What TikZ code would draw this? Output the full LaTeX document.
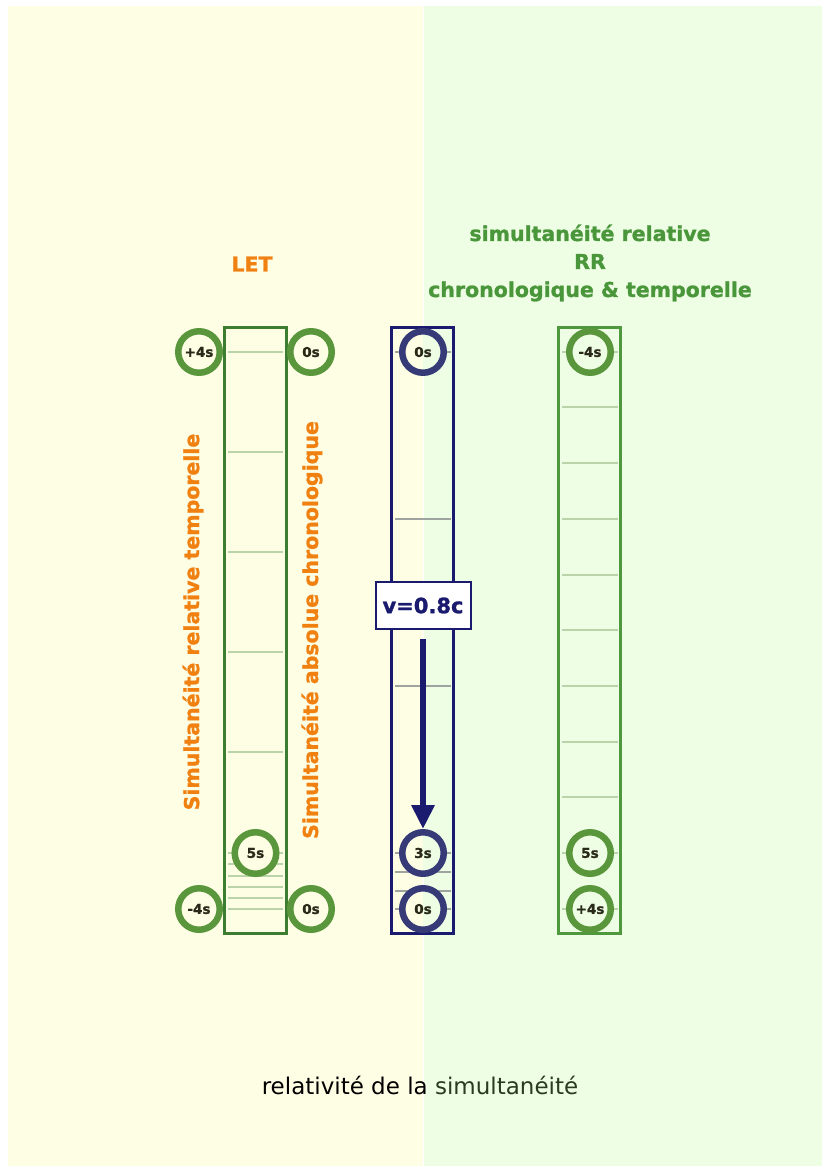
\documentclass[tikz,border=0pt]{standalone}
\usepackage{fontspec}
\setmainfont{DejaVu Sans}[BoldFeatures={FakeBold=1.2}]
\usetikzlibrary{arrows.meta}
\definecolor{fondJ}{RGB}{254,254,228}
\definecolor{fondV}{RGB}{238,254,228}
\definecolor{vertF}{RGB}{61,125,50}
\definecolor{vertC}{RGB}{80,152,62}
\definecolor{vertB}{RGB}{90,150,60}
\definecolor{vertT}{RGB}{74,150,58}
\definecolor{vertS}{RGB}{42,58,34}
\definecolor{bleuF}{RGB}{26,26,110}
\definecolor{bleuC}{RGB}{54,59,119}
\definecolor{orangeT}{RGB}{240,128,16}
\definecolor{traitV}{RGB}{184,212,168}
\definecolor{traitG}{RGB}{160,164,160}
\definecolor{txtdark}{RGB}{42,42,26}
\tikzset{
  colonne/.style={draw=#1, line width=3pt, minimum width=62pt, minimum height=606pt, inner sep=0pt},
  bulle/.style={circle, draw=#1, line width=6.5pt, minimum size=41.5pt, inner sep=0pt,
    font=\bfseries\fontsize{13.5}{16}\selectfont, text=txtdark},
  trait/.style={line width=1.2pt, draw=#1},
}
\begin{document}
\begin{tikzpicture}[x=1pt, y=-1pt]
    \useasboundingbox (0,0) rectangle (822,1168);
    % fonds
    \fill[fondJ] (8,6) rectangle (422.5,1166);
    \fill[fondV] (424,6) rectangle (822,1166);
    % colonnes
    \node[colonne=vertF] (gauche) at (255,630) {};
    \node[colonne=bleuF] (milieu) at (422.5,630) {};
    \node[colonne=vertC] (droite) at (589,630) {};
    % graduations
    \foreach \y in {352,452,552,652,752,853,864,876,887,898,909}
        \draw[trait=traitV] (228,\y) -- (283,\y);
    \foreach \y in {352,519,686,853,872,891,909}
        \draw[trait=traitG] (395,\y) -- (451,\y);
    \foreach \y in {352,407,463,519,575,630,686,742,797,853,909}
        \draw[trait=traitV] (562,\y) -- (618,\y);
    % horloges LET
    \node[bulle=vertB, fill=fondJ] (g1) at (199,352) {+4s};
    \node[bulle=vertB, fill=fondJ] (g2) at (311,352) {0s};
    \node[bulle=vertB, fill=fondJ] (g3) at (255.5,853) {5s};
    \node[bulle=vertB, fill=fondJ] (g4) at (199,909) {-4s};
    \node[bulle=vertB, fill=fondJ] (g5) at (311,909) {0s};
    % horloges mobile
    \tikzset{moitie/.style={bulle=bleuC, fill=fondJ, path picture={
        \fill[fondV] (path picture bounding box.north) rectangle (path picture bounding box.south east);}}}
    \node[moitie] (m1) at (423,352) {0s};
    \node[moitie] (m3) at (423,853) {3s};
    \node[moitie] (m4) at (423,909) {0s};
    % horloges RR
    \node[bulle=vertB, fill=fondV] (d1) at (590,352) {-4s};
    \node[bulle=vertB, fill=fondV] (d2) at (590,853) {5s};
    \node[bulle=vertB, fill=fondV] (d3) at (590,909) {+4s};
    % vitesse
    \node[draw=bleuF, line width=2pt, fill=white, minimum width=95pt, minimum height=47pt, inner sep=0pt,
        text=bleuF, font=\bfseries\fontsize{21}{24}\selectfont] (vitesse) at (423,605.5) {v=0.8c};
    \draw[bleuF, line width=6pt, -{Triangle[width=22pt, length=24pt]}, shorten <=9pt] (vitesse) -- (m3);
    % titres
    \node[text=orangeT, font=\bfseries\fontsize{20.5}{28}\selectfont] (let) at (252,264) {LET};
    \node[text=vertT, align=center, font=\bfseries\fontsize{20.5}{28}\selectfont] (rr) at (590,263)
        {simultanéité relative\\RR\\chronologique \& temporelle};
    \node[text=orangeT, rotate=90, font=\bfseries\fontsize{20.5}{24}\selectfont] (temp) at (193,622)
        {Simultanéité relative temporelle};
    \node[text=orangeT, rotate=90, font=\bfseries\fontsize{20.5}{24}\selectfont] (chrono) at (312,630)
        {Simultanéité absolue chronologique};
    \node[font=\fontsize{23}{26}\selectfont] (titre) at (420,1085)
        {relativité de la \textcolor{vertS}{simultanéité}};
\end{tikzpicture}
\end{document}
